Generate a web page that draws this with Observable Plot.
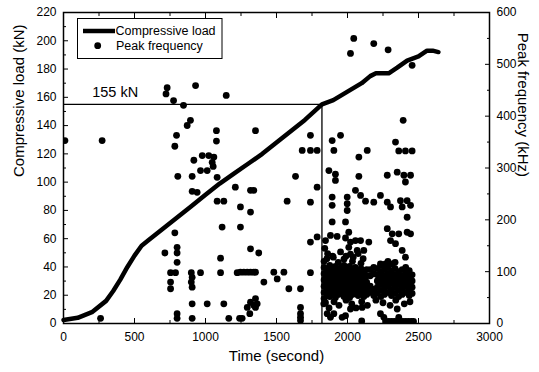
<!DOCTYPE html>
<html><head><meta charset="utf-8">
<script src="https://cdn.jsdelivr.net/npm/d3@7"></script>
<script src="https://cdn.jsdelivr.net/npm/@observablehq/plot@0.6"></script>
<style>body{margin:0;background:#fff}</style>
</head><body><div id="chart"></div>
<script>
// Compressive load curve
const loadTime = [0,100,200,300,350,400,450,500,550,600,700,800,900,1000,1100,1200,1300,1400,1500,1600,1700,1820,1900,2000,2100,2160,2200,2250,2290,2350,2420,2500,2560,2600,2640];
const loadKN   = [2.5,4,8,16,23,31,40,48,55,59,67,75,83,91,99,106,113,120,128,136,144,155,158,164,170,175,177,177,177,181,186,189,193,193,192];

// Peak frequency scattered points [time s, kHz]
const peakPoints = [
 [10,353],[272,353],[261,10],
 [722,443],[730,455],[775,430],[845,421],[930,459],[1146,440],
 [894,392],[871,382],[796,363],[784,342],[1077,372],[1077,352],
 [918,315],[977,324],[1023,324],[1059,321],[965,295],[1012,295],[1047,311],[1054,303],
 [805,284],[906,284],[1082,282],[906,255],[941,253],[1210,263],[1246,225],
 [1082,236],[1129,236],[1117,186],[1246,186],[784,175],
 [714,136],[800,147],[800,136],[800,118],[1106,126],
 [754,98],[789,98],[900,98],[965,98],[906,89],[900,80],[906,70],[754,80],[754,67],
 [1106,98],[1223,98],[906,38],[1012,38],[1129,38],
 [800,19],[800,10],[906,10],[1164,10],[1240,10],[1258,10],
 [1352,372],[1739,363],[1681,334],[1739,334],[1786,334],[1634,284],[1317,257],[1340,257],
 [1575,236],[1739,234],[1786,263],[1317,215],[1317,144],[1375,136],[1739,157],[1786,167],
 [1246,99],[1270,99],[1294,99],[1317,99],[1340,99],[1352,99],[1481,99],[1552,99],[1739,98],
 [1505,86],[1411,80],[1587,67],[1669,67],
 [1317,41],[1352,48],[1294,31],[1352,31],[1312,19],[1340,35],[1364,38],
 [1669,31],[1669,19],[1669,12],[1669,6],
 [2044,550],[2021,521],[2185,540],[2286,528],[2455,498],[2392,392],
 [1951,363],[1892,353],[1904,334],[2139,334],[2080,321],
 [2338,350],[2361,333],[2408,333],[2455,333],
 [1869,295],[1915,288],[1915,276],[2080,284],
 [2280,286],[2350,292],[2397,286],[2444,286],[2408,273],
 [1892,244],[1892,228],[1998,244],[1998,231],[1998,218],
 [2056,257],[2092,247],[2127,236],[2185,234],[2232,247],[2280,234],[2303,225],
 [2373,237],[2420,237],[2444,228],[2385,225],[2420,205],
 [1892,196],[1986,196],[2009,176],
 [1845,160],[1880,170],[1927,168],[1986,165],[2056,160],[1951,138],[2009,147],
 [2280,183],[2315,173],[2361,173],[2420,176],[2444,173],[2303,160],[2338,154],[2385,141],[2408,128],
 [2021,157],[2092,160],[2150,157],[2068,141],[2115,141],[2021,134],
 [2232,115],[2268,115],[2315,115],
 [1860,135],[1900,128],[1990,130],[2040,128],[2075,135],[2110,125],[1840,145],
 [1845,40],[1870,30],[1905,42],[1940,35],[1990,45],[2030,38],[2060,30],[2100,42],[2140,35],
 [2200,45],[2250,40],[2300,35],[2340,45],[2400,38],[2440,42],
 [1833,38],[1857,19],[1904,19],[1880,12],[1962,12],[1986,15],[2021,28],[2103,31],[2100,5],
 [2232,19],[2256,12],[2350,28],[2361,12],
 [2270,4],[2290,4],[2310,4],[2330,4],[2350,4],[2370,4],[2390,4],[2410,4],[2430,4],[2450,4],[2465,4]
];

// Dense band of peak frequency readings after 1820 s
const bandTimes = [1835,1855,1875,1895,1915,1935,1955,1975,1995,2015,2035,2055,2075,2095,2115,2135,2160,2185,2210,2235,2260,2285,2310,2335,2360,2385,2410,2435,2455];
const bandFreqs = [
 [48,60,72,84,96,108,120],[55,66,78,90,102,125],[52,63,75,88,100,112],[58,70,82,94,106,130],
 [50,62,74,86,98,110],[56,68,80,92,104,118],[60,72,84,96,108],[52,64,76,88,100,112,124],
 [58,70,82,94,106],[50,62,74,86,98,110],[56,68,80,92,104,120],[60,72,84,96,108],
 [54,66,78,90,102],[58,70,82,94,106,116],[52,64,76,88,100],[56,68,80,92,104],
 [60,72,92,104],[54,66,96,108],[58,70,82,94,106],[52,64,76,88,100,112],
 [56,68,80,92,104],[60,72,84,96,108,120],[54,66,78,90,102],[58,70,82,94,106,118],
 [52,64,76,88,100],[56,68,80,92,104],[60,72,84,96,108],[54,66,78,90,102],[58,70,82,94]
];

const xTicks = [0,500,1000,1500,2000,2500,3000];
const xMinor = [250,750,1250,1750,2250,2750];
const loadTicks = [0,20,40,60,80,100,120,140,160,180,200,220];
const loadMinor = [10,30,50,70,90,110,130,150,170,190,210];
const freqTicks = [0,100,200,300,400,500,600];
const freqMinor = [50,150,250,350,450,550];
const thresholdTime = 1820, thresholdLoad = 155;
const loadMax = 220, freqMax = 600;
const k = loadMax / freqMax;

const loadData = loadTime.map((t, i) => ({t, v: loadKN[i]}));
const peaks = peakPoints.map(([t, f]) => ({t, f}));
bandTimes.forEach((t, i) => bandFreqs[i].forEach(f => peaks.push({t, f})));

const blank = () => "";
const plain = d => String(d);
const svg = Plot.plot({
  width: 539, height: 372,
  marginLeft: 63, marginRight: 50, marginTop: 12, marginBottom: 49,
  style: {fontFamily: "'Liberation Sans', Arial, sans-serif", fontSize: "12px", background: "white", color: "black"},
  x: {domain: [0, 3000]},
  y: {domain: [0, loadMax]},
  marks: [
    Plot.axisX(xTicks, {anchor: "bottom", tickSize: -5, tickPadding: 14, label: null, fontSize: 12, tickFormat: plain}),
    Plot.axisX(xMinor, {anchor: "bottom", tickSize: -3, tickFormat: blank, label: null}),
    Plot.axisX(xTicks, {anchor: "top", tickSize: -5, tickFormat: blank, label: null}),
    Plot.axisX(xMinor, {anchor: "top", tickSize: -3, tickFormat: blank, label: null}),
    Plot.axisY(loadTicks, {anchor: "left", tickSize: -5, tickPadding: 12, label: null, fontSize: 12, tickFormat: plain}),
    Plot.axisY(loadMinor, {anchor: "left", tickSize: -3, tickFormat: blank, label: null}),
    Plot.axisY(freqTicks.map(v => v * k), {anchor: "right", tickSize: -5, tickPadding: 12, label: null, fontSize: 12, tickFormat: v => String(Math.round(v / k))}),
    Plot.axisY(freqMinor.map(v => v * k), {anchor: "right", tickSize: -3, tickFormat: blank, label: null}),
    Plot.ruleY([thresholdLoad], {x1: 0, x2: thresholdTime, strokeWidth: 1.3}),
    Plot.ruleX([thresholdTime], {y1: 0, y2: thresholdLoad, strokeWidth: 1.3}),
    Plot.dot(peaks, {x: "t", y: d => d.f * k, r: 3.4, fill: "black", stroke: "none", clip: true}),
    Plot.line(loadData, {x: "t", y: "v", stroke: "black", strokeWidth: 4.5}),
    Plot.text(["155 kN"], {x: 202, y: 160.5, textAnchor: "start", lineAnchor: "bottom", fontSize: 14.5}),
    Plot.frame({stroke: "black", strokeWidth: 1.5}),
    Plot.text(["Compressive load (kN)"], {frameAnchor: "left", rotate: -90, dx: -44, dy: 9, fontSize: 15}),
    Plot.text(["Peak frequency (kHz)"], {frameAnchor: "right", rotate: 90, dx: 33, dy: 9, fontSize: 15}),
    Plot.text(["Time (second)"], {frameAnchor: "bottom", dy: 37, fontSize: 15})
  ]
});

// Legend box
const g = d3.select(svg).append("g")
  .attr("font-family", "'Liberation Sans', Arial, sans-serif")
  .attr("font-size", 12.5)
  .attr("text-anchor", "start");
g.append("rect").attr("x", 77.5).attr("y", 18.5).attr("width", 144.5).attr("height", 40).attr("fill", "white").attr("stroke", "black").attr("stroke-width", 1);
g.append("line").attr("x1", 83).attr("x2", 115).attr("y1", 31).attr("y2", 31).attr("stroke", "black").attr("stroke-width", 4.5);
g.append("text").attr("x", 115.5).attr("y", 31).attr("dy", "0.35em").attr("text-anchor", "start").text("Compressive load");
g.append("circle").attr("cx", 97.7).attr("cy", 45.7).attr("r", 3.4).attr("fill", "black");
g.append("text").attr("x", 116).attr("y", 46).attr("dy", "0.35em").attr("text-anchor", "start").text("Peak frequency");

document.getElementById("chart").appendChild(svg);
</script>
</body></html>
